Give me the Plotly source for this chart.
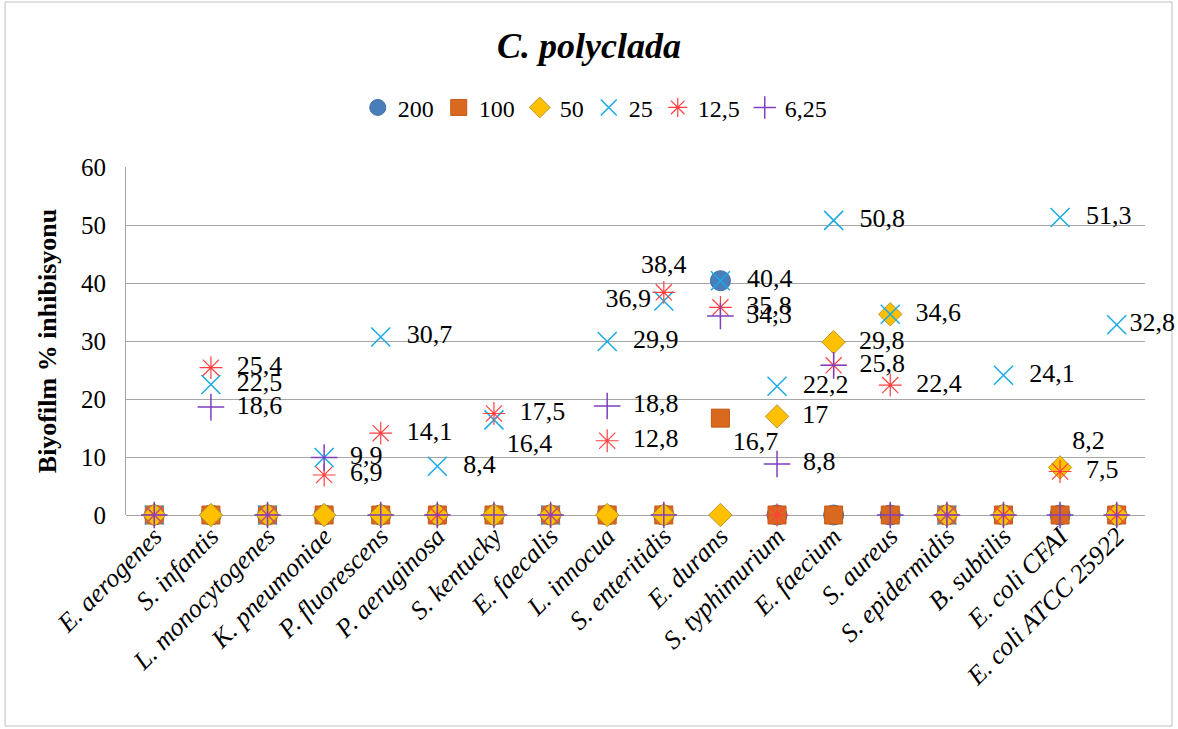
import plotly.graph_objects as go

categories = ["E. aerogenes", "S. infantis", "L. monocytogenes", "K. pneumoniae",
              "P. fluorescens", "P. aeruginosa", "S. kentucky", "E. faecalis",
              "L. innocua", "S. enteritidis", "E. durans", "S. typhimurium",
              "E. faecium", "S. aureus", "S. epidermidis", "B. subtilis",
              "E. coli CFAI", "E. coli ATCC 25922"]

s200 = [0, 0, 0, 0, 0, 0, 0, 0, 0, 0, 40.4, 0, 0, 0, 0, 0, 0, 0]
s100 = [0, 0, 0, 0, 0, 0, 0, 0, 0, 0, 16.7, 0, 0, 0, 0, 0, 0, 0]
s50 = [0, 0, 0, 0, 0, 0, 0, 0, 0, 0, 0, 17, 29.8, 34.6, 0, 0, 8.2, 0]
s25 = [0, 22.5, 0, 9.9, 30.7, 8.4, 16.4, 0, 29.9, 36.9, 40.4, 22.2, 50.8, 34.6, 0, 24.1, 51.3, 32.8]
s12_5 = [0, 25.4, 0, 6.9, 14.1, 0, 17.5, 0, 12.8, 38.4, 35.8, 0, 25.8, 22.4, 0, 0, 7.5, 0]
s6_25 = [0, 18.6, 0, 9.9, 0, 0, 0, 0, 18.8, 0, 34.3, 8.8, 25.8, 0, 0, 0, 0, 0]

series_names = ["200", "100", "50", "25", "12,5", "6,25"]
series_values = [s200, s100, s50, s25, s12_5, s6_25]

SERIF = "Liberation Serif, Times New Roman, serif"

styles = [
    dict(symbol="circle", size=20, color="#4A7EBB", line=dict(color="#3F6FA8", width=1)),
    dict(symbol="square", size=18, color="#D8691F", line=dict(color="#C45B15", width=1)),
    dict(symbol="diamond", size=18, color="#FFC000", line=dict(color="#B8962E", width=1)),
    dict(symbol="x-thin-open", size=19, color="#1AAAE6", line=dict(color="#1AAAE6", width=1.5)),
    dict(symbol="asterisk-open", size=19, color="#FF4040", line=dict(color="#FF4040", width=1.2)),
    dict(symbol="cross-thin-open", size=19, color="#7F3FBF", line=dict(color="#7F3FBF", width=1.5)),
]

# label placement overrides (series index, category) -> (textposition, leading pad)
overrides = {
    (4, "S. enteritidis"): ("top center", ""),
    (3, "S. enteritidis"): ("middle left", ""),
    (1, "E. durans"): ("bottom right", ""),
    (2, "E. coli CFAI"): ("top right", ""),
    (3, "S. kentucky"): ("bottom right", ""),
    (3, "E. coli ATCC 25922"): ("middle right", ""),
}


def fmt(v):
    return ("%g" % v).replace(".", ",")


fig = go.Figure()
for i, (name, vals, st) in enumerate(zip(series_names, series_values, styles)):
    texts = []
    positions = []
    for j, (c, v) in enumerate(zip(categories, vals)):
        pos, pad = overrides.get((i, c), ("middle right", "  "))
        # a value already labelled by an earlier series at the same spot is not repeated
        dup = any(series_values[k][j] == v for k in range(i))
        texts.append("" if (v == 0 or dup) else pad + fmt(v))
        positions.append(pos)
    fig.add_trace(go.Scatter(
        x=categories, y=vals, name=name, mode="markers+text",
        text=texts, textposition=positions,
        textfont=dict(family=SERIF, size=26, color="black"),
        marker=st, cliponaxis=False,
    ))

fig.update_layout(
    width=1178, height=729,
    margin=dict(l=126, r=33, t=167, b=214),
    paper_bgcolor="white", plot_bgcolor="white",
    font=dict(family=SERIF, color="black"),
    title=dict(text="<b><i>C. polyclada</i></b>", x=0.5, xanchor="center",
               y=1 - 45 / 729, yanchor="middle",
               font=dict(family=SERIF, size=36, color="black")),
    legend=dict(orientation="h", x=0.46, xanchor="center", y=1.17, yanchor="middle",
                font=dict(family=SERIF, size=24, color="black"),
                itemwidth=30, tracegroupgap=0),
    showlegend=True,
)
fig.update_xaxes(
    tickmode="array", tickvals=categories,
    ticktext=["<i>%s</i>" % c for c in categories],
    tickangle=-45, tickfont=dict(family=SERIF, size=26, color="black"),
    showgrid=False, zeroline=False, showline=False, ticks="",
    range=[-0.5, len(categories) - 0.5],
)
fig.update_yaxes(
    range=[0, 60], dtick=10, showgrid=True, gridcolor="#A6A6A6", gridwidth=1,
    zeroline=True, zerolinecolor="#A6A6A6", zerolinewidth=1,
    showline=True, linecolor="#A6A6A6", linewidth=1,
    tickfont=dict(family=SERIF, size=25, color="black"),
    ticklabelstandoff=14,
    title=dict(text="<b>Biyofilm % inhibisyonu</b>", standoff=16,
               font=dict(family=SERIF, size=26, color="black")),
)
fig.add_shape(type="rect", xref="paper", yref="paper",
              x0=-121 / 1020, x1=1 + 27 / 1020, y0=-211 / 348, y1=1 + 165 / 348,
              line=dict(color="#BFBFBF", width=1), layer="below")

fig.write_html("out.html")
